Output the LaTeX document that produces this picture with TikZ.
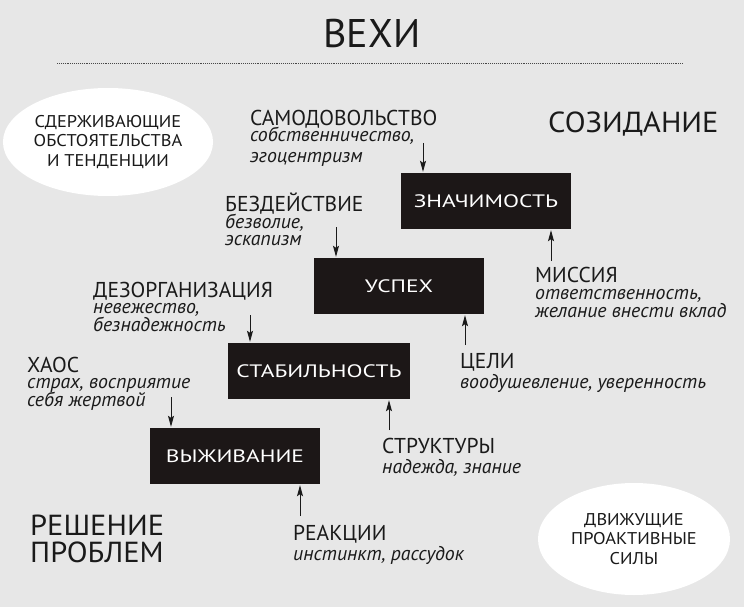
\documentclass[tikz,border=0pt]{standalone}
\usepackage{fontspec}
\setmainfont{PT Sans}
\newfontfamily\boxf[FakeStretch=1.3]{PT Sans}
\newfontfamily\ellf[FakeStretch=1.08]{PT Sans}
\newfontfamily\bigf[FakeStretch=1.05]{PT Sans}
\usetikzlibrary{arrows.meta,shapes.geometric}
\definecolor{bgc}{HTML}{E7E7E7}
\definecolor{ink}{HTML}{1A1A1A}
\definecolor{boxc}{HTML}{1C1717}
\begin{document}
\begin{tikzpicture}[x=1pt,y=-1pt,
  lab/.style={anchor=base west, inner sep=0pt, text=ink, text depth=0pt, font=\fontsize{21.5}{22}\selectfont},
  itl/.style={anchor=base west, inner sep=0pt, text=ink, text height=11pt, font=\fontsize{19.8}{19.8}\selectfont\itshape},
  big/.style={anchor=base west, inner sep=0pt, text=ink, text depth=0pt, font=\bigf\fontsize{29}{29}\selectfont},
  stage/.style={fill=boxc, text=white, minimum height=56pt, minimum width=170pt, inner sep=0pt,
    text height=12.5pt, text depth=0pt, font=\boxf\fontsize{18}{18}\selectfont},
  oval/.style={ellipse, fill=white, inner sep=0pt, text=ink, align=center,
    font=\ellf\fontsize{17}{19.5}\selectfont},
  arr/.style={-{Stealth[length=11pt,width=6pt,inset=2pt]}, line width=0.9pt, draw=ink, shorten >=1pt}
]
\fill[bgc] (0,0) rectangle (744,607);
\useasboundingbox (0,0) rectangle (744,607);

% title and dotted rule
\node[anchor=base, inner sep=0pt, text=ink, font=\fontsize{40}{40}\selectfont] (title) at (372,48) {ВЕХИ};
\coordinate (dl) at (57,63);
\coordinate (dr) at (683,63);
\draw[ink!80, line width=0.9pt, dash pattern=on 0.8pt off 1.1pt] (dl) -- (dr);

% ovals
\node[oval, minimum width=196pt, minimum height=108pt] (ovl) at (108,142) {СДЕРЖИВАЮЩИЕ\\ОБСТОЯТЕЛЬСТВА\\И ТЕНДЕНЦИИ};
\node[oval, minimum width=192pt, minimum height=112pt] (ovr) at (634,539) {ДВИЖУЩИЕ\\ПРОАКТИВНЫЕ\\СИЛЫ};

% corner headings
\node[big] (soz) at (548,132) {СОЗИДАНИЕ};
\node[big] (resh) at (30,535) {РЕШЕНИЕ};
\node[big] (probl) at (30,562) {ПРОБЛЕМ};

% stages
\node[stage] (zn) at (486,201) {ЗНАЧИМОСТЬ};
\node[stage] (usp) at (399,286) {УСПЕХ};
\node[stage, minimum width=182pt] (stab) at (319,371) {СТАБИЛЬНОСТЬ};
\node[stage] (vyzh) at (235,456) {ВЫЖИВАНИЕ};

% restraining labels
\node[lab] (sam) at (250,126) {САМОДОВОЛЬСТВО};
\node[itl] (sam1) at (250,142) {собственничество,};
\node[itl] (sam2) at (250,162) {эгоцентризм};

\node[lab] (bez) at (225,211) {БЕЗДЕЙСТВИЕ};
\node[itl] (bez1) at (225,228) {безволие,};
\node[itl] (bez2) at (225,245) {эскапизм};

\node[lab] (dez) at (93,297) {ДЕЗОРГАНИЗАЦИЯ};
\node[itl] (dez1) at (93,313) {невежество,};
\node[itl] (dez2) at (93,331) {безнадежность};

\node[lab] (haos) at (27,372) {ХАОС};
\node[itl] (haos1) at (27,388) {страх, восприятие};
\node[itl] (haos2) at (27,406) {себя жертвой};

% driving labels
\node[lab] (mis) at (535,282) {МИССИЯ};
\node[itl] (mis1) at (535,299) {ответственность,};
\node[itl] (mis2) at (535,317) {желание внести вклад};

\node[lab] (cel) at (460,368) {ЦЕЛИ};
\node[itl] (cel1) at (460,388) {воодушевление, уверенность};

\node[lab] (str) at (382,453) {СТРУКТУРЫ};
\node[itl] (str1) at (382,473) {надежда, знание};

\node[lab] (rea) at (293,540) {РЕАКЦИИ};
\node[itl] (rea1) at (293,560) {инстинкт, рассудок};

% arrows
\coordinate (a1) at (423,143);
\coordinate (a2) at (336,227);
\coordinate (a3) at (250,315);
\coordinate (a4) at (171,397);
\coordinate (b1) at (551,261);
\coordinate (b2) at (465,345);
\coordinate (b3) at (389,430);
\coordinate (b4) at (300,516);
\draw[arr] (a1) -- (a1 |- zn.north);
\draw[arr] (a2) -- (a2 |- usp.north);
\draw[arr] (a3) -- (a3 |- stab.north);
\draw[arr] (a4) -- (a4 |- vyzh.north);
\draw[arr] (b1) -- (b1 |- zn.south);
\draw[arr] (b2) -- (b2 |- usp.south);
\draw[arr] (b3) -- (b3 |- stab.south);
\draw[arr] (b4) -- (b4 |- vyzh.south);
\end{tikzpicture}
\end{document}
